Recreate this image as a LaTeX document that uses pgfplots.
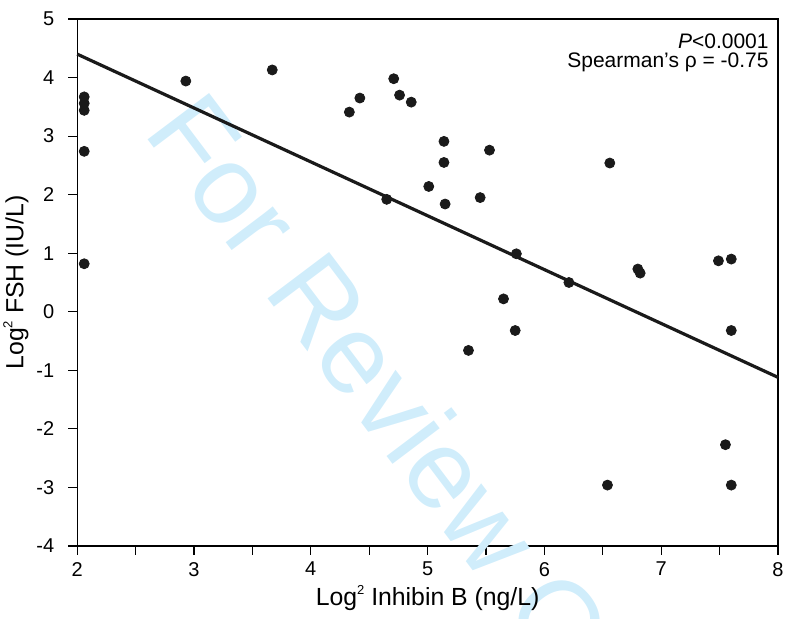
\documentclass[border=0pt]{standalone}
\usepackage{fontspec}
\setmainfont{Liberation Sans}
\usepackage{pgfplots}
\pgfplotsset{compat=1.18}
\definecolor{wmark}{RGB}{208,237,251}
\definecolor{dot}{RGB}{26,26,26}
\newcommand{\sq}{\raisebox{0.85ex}{\fontsize{6.5}{6.5}\selectfont 2}}

\begin{document}
\begin{tikzpicture}
\begin{axis}[
  scale only axis, width=350.4pt, height=263.5pt,
  xmin=2, xmax=8, ymin=-4, ymax=5,
  xtick={2,3,...,8}, minor xtick={2.5,3.5,...,7.5},
  ytick={-4,-3,...,5},
  tick align=outside, major tick length=4.5pt, minor tick length=4.5pt,
  xtick pos=bottom, ytick pos=left,
  axis line style={line width=0.6pt},
  every tick/.style={black, line width=0.6pt},
  /pgf/number format/assume math mode=true,
  tick label style={font=\fontsize{10}{11}\selectfont},
  yticklabel style={xshift=-3.5pt},
  label style={font=\fontsize{12.4}{13}\selectfont},
  xlabel={Log\sq\ Inhibin B (ng/L)},
  ylabel={Log\sq\ FSH (IU/L)},
  xlabel style={yshift=2.5pt},
  ylabel style={yshift=-3pt},
  clip=false,
]
% watermark
\node[overlay, text=wmark, rotate=-53, font=\fontsize{56}{56}\selectfont]
  at (axis cs:4.89,-2.28) {For Review Only};

\addplot[only marks, mark=*, mark size=2.5pt, dot, mark options={draw=dot, fill=dot}] coordinates {
(2.06,3.67) (2.06,3.56) (2.06,3.44) (2.06,2.74) (2.06,0.82)
(2.93,3.94) (3.67,4.13) (4.33,3.41) (4.42,3.65) (4.65,1.92)
(4.71,3.98) (4.76,3.70) (4.86,3.58) (5.01,2.14) (5.14,2.91)
(5.14,2.55) (5.15,1.84) (5.35,-0.66) (5.45,1.95) (5.53,2.76)
(5.65,0.22) (5.75,-0.32) (5.76,0.99) (6.21,0.50) (6.54,-2.96)
(6.56,2.54) (6.80,0.73) (6.82,0.66) (7.49,0.87) (7.55,-2.27)
(7.60,0.90) (7.60,-0.32) (7.60,-2.96)
};
\addplot[dot, line width=1.6pt] coordinates {(2,4.40) (8,-1.12)};

\node[anchor=north east, inner sep=0pt, align=right,
  font=\fontsize{10.5}{9.6}\selectfont] at (axis cs:7.923,4.761)
  {\textit{P}<0.0001\\Spearman’s ρ = -0.75};
\coordinate (O) at (rel axis cs:0,0);
\end{axis}
\pgfresetboundingbox
\path (O) ++(-38.6pt,-36.5pt) rectangle ++(394pt,309.5pt);
\end{tikzpicture}
\end{document}
